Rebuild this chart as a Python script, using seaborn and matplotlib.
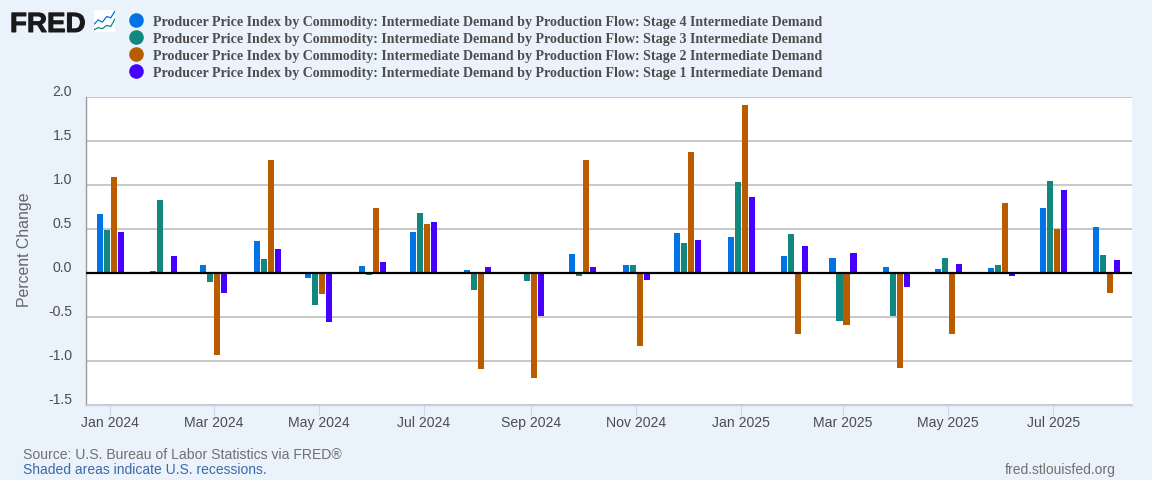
import matplotlib
matplotlib.use('Agg')
import matplotlib.pyplot as plt
import matplotlib.dates as mdates
import matplotlib.patheffects as pe
import matplotlib.transforms as mtrans
from matplotlib.lines import Line2D
import pandas as pd
import seaborn as sns

months = pd.date_range('2024-01-01', '2025-08-01', freq='MS')

stage4 = [0.67, 0.02, 0.09, 0.36, -0.06, 0.08, 0.47, 0.03, 0.0, 0.22,
          0.09, 0.45, 0.41, 0.19, 0.17, 0.07, 0.05, 0.06, 0.74, 0.52]
stage3 = [0.49, 0.83, -0.10, 0.16, -0.36, -0.02, 0.68, -0.19, -0.09, -0.03,
          0.09, 0.34, 1.03, 0.44, -0.55, -0.49, 0.17, 0.09, 1.05, 0.20]
stage2 = [1.09, 0.0, -0.93, 1.28, -0.24, 0.74, 0.56, -1.09, -1.19, 1.28,
          -0.83, 1.38, 1.91, -0.69, -0.59, -1.08, -0.69, 0.80, 0.50, -0.23]
stage1 = [0.47, 0.19, -0.23, 0.27, -0.56, 0.12, 0.58, 0.07, -0.49, 0.07,
          -0.08, 0.38, 0.86, 0.31, 0.23, -0.16, 0.10, -0.03, 0.94, 0.15]

prefix = 'Producer Price Index by Commodity: Intermediate Demand by Production Flow: '
names = [prefix + 'Stage %d Intermediate Demand' % n for n in (4, 3, 2, 1)]
colors = ['#0073e6', '#12877f', '#b95c00', '#4600ff']

yticks = [-1.5, -1.0, -0.5, 0.0, 0.5, 1.0, 1.5, 2.0]
xtick_dates = pd.date_range('2024-01-01', '2025-07-01', freq='2MS')

W, H = 1152, 480
bg = '#eaf2fb'

sns.set_style('white')
plt.rcParams['font.family'] = ['Liberation Sans', 'DejaVu Sans']

days = mdates.date2num(months)
frames = []
for name, vals in zip(names, [stage4, stage3, stage2, stage1]):
    frames.append(pd.DataFrame({'day': days, 'value': vals, 'series': name}))
df = pd.concat(frames)

fig = plt.figure(figsize=(W / 100, H / 100), dpi=100, facecolor=bg)
ax = fig.add_axes([86 / W, 1 - 405 / H, (1132 - 86) / W, (405 - 97) / H])
ax.set_facecolor('white')

sns.barplot(data=df, x='day', y='value', hue='series', hue_order=names,
            palette=colors, native_scale=True, width=0.58, gap=0.14,
            saturation=1, linewidth=0, legend=False, errorbar=None, ax=ax, zorder=3)

ax.set_ylim(-1.5, 2.0)
ax.set_xlim(mdates.date2num(pd.Timestamp('2024-01-01')) - 14.0,
            mdates.date2num(pd.Timestamp('2025-07-01')) + 45.6)

# grid and zero line
ax.set_yticks(yticks)
ax.yaxis.grid(True, color='#c4c4c4', linewidth=1.3, zorder=1)
ax.xaxis.grid(False)
ax.set_axisbelow(True)
ax.axhline(0, color='black', linewidth=1.6, zorder=5)

for s in ['top', 'right']:
    ax.spines[s].set_visible(False)
ax.spines['left'].set_color('#9a9a9a')
ax.spines['left'].set_linewidth(1)
ax.spines['bottom'].set_color('#c5cfe0')
ax.spines['bottom'].set_linewidth(1)

# y labels sit a little above their gridlines
ax.set_yticklabels(['%.1f' % v for v in yticks])
ax.tick_params(axis='y', length=0, pad=10, labelsize=10.1, labelcolor='#4d4d4d')
up = mtrans.ScaledTranslation(0, 6 / 100, fig.dpi_scale_trans)
for lab in ax.get_yticklabels():
    lab.set_transform(lab.get_transform() + up)

ax.set_xticks(mdates.date2num(xtick_dates))
ax.set_xticklabels([d.strftime('%b %Y') for d in xtick_dates])
ax.tick_params(axis='x', length=7.2, width=0.75, color='#ccd6eb', pad=0.8,
               labelsize=10.1, labelcolor='#4d4d4d', bottom=True)
ax.set_xlabel('')
ax.set_ylabel('')
fig.text(24.5 / W, 1 - 250 / H, 'Percent Change', rotation=90, ha='center', va='center',
         fontsize=11.4, color='#666666')

# legend
for i, (name, col) in enumerate(zip(names, colors)):
    y = 1 - (20 + i * 17) / H
    fig.add_artist(Line2D([135.7 / W], [y], marker='o', markersize=10.5, color=col,
                          markeredgewidth=0, transform=fig.transFigure))
    fig.text(153 / W, 1 - (26 + i * 17) / H, name, family=['Liberation Serif'], weight='bold',
             fontsize=10.1, color='#4d4d4d', ha='left', va='baseline')

# logo
fred = fig.text(10 / W, 1 - 32 / H, 'FRED', weight='bold', fontsize=20, color='#1a1a1a',
                ha='left', va='baseline')
fred.set_path_effects([pe.withStroke(linewidth=0.7, foreground='#1a1a1a')])
logo = fig.add_axes([94 / W, 1 - 32 / H, 21 / W, 22 / H])
logo.set_facecolor('white')
logo.set_xticks([])
logo.set_yticks([])
for s in logo.spines.values():
    s.set_visible(False)
logo.plot([0, 2, 4, 6, 8, 10], [3.5, 5.5, 4.5, 7, 6.5, 9.5], color='#0073e6', lw=0.9)
logo.plot([0, 2, 4, 6, 8, 10], [1, 2, 1.5, 3, 2.5, 6], color='#12877f', lw=0.9)
logo.set_xlim(0, 10)
logo.set_ylim(0, 10)

# footer
fig.text(23 / W, 1 - 455 / H, 'Source: U.S. Bureau of Labor Statistics via FRED\u00ae',
         fontsize=10.05, color='#707070', ha='left', va='center')
fig.text(23 / W, 1 - 470 / H, 'Shaded areas indicate U.S. recessions.',
         fontsize=10, color='#3b6aa8', ha='left', va='center')
fig.text(1116 / W, 1 - 470 / H, 'fred.stlouisfed.org',
         fontsize=10, color='#707070', ha='right', va='center')

fig.savefig('out.png', dpi=100, facecolor=bg)
